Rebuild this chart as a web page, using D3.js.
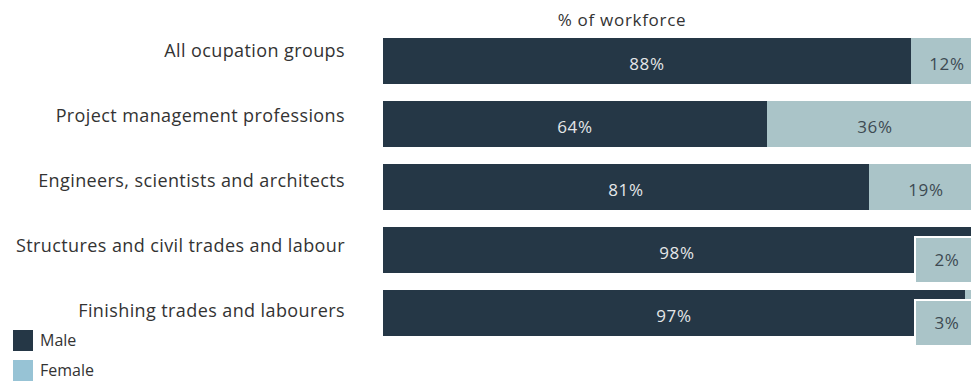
<!DOCTYPE html>
<html>
<head>
<meta charset="utf-8">
<script src="https://cdn.jsdelivr.net/npm/d3@7"></script>
<style>
  body { margin: 0; background: #fff; }
  svg { display: block; font-family: "Open Sans", sans-serif; }
</style>
</head>
<body>
<div id="chart"></div>
<script>
// data
const categories = [
    "All ocupation groups",
    "Project management professions",
    "Engineers, scientists and architects",
    "Structures and civil trades and labour",
    "Finishing trades and labourers"
];
const male = [88, 64, 81, 98, 97];
const female = [12, 36, 19, 2, 3];
const seriesNames = ["Male", "Female"];

const width = 971, height = 381;
const colMale = "#253746", colFemale = "#aac4c8", colFemaleKey = "#97c3d5";

const svg = d3.select("#chart").append("svg")
    .attr("width", width)
    .attr("height", height);

// scales
const x = d3.scaleLinear().domain([0, 100]).range([383, 983]);
const y = d3.scaleBand().domain(categories).range([38, 336]).paddingInner(0.27).paddingOuter(0);
const yLabel = d3.scalePoint().domain(categories).range([51, 311]);

const rows = categories.map((c, i) => ({cat: c, m: male[i], f: female[i]}));

// title
svg.append("text")
    .attr("x", 622).attr("y", 20)
    .attr("dy", "0.35em")
    .attr("text-anchor", "middle")
    .attr("font-size", 17).attr("letter-spacing", 0.7).attr("fill", "#333")
    .text("% of workforce");

// category labels
svg.selectAll(".cat-label").data(rows).enter().append("text")
    .attr("class", "cat-label")
    .attr("x", 345)
    .attr("y", d => yLabel(d.cat))
    .attr("dy", "0.35em")
    .attr("text-anchor", "end")
    .attr("font-size", 18).attr("letter-spacing", 0.4).attr("fill", "#333")
    .text(d => d.cat);

// bars
const g = svg.selectAll(".row").data(rows).enter().append("g").attr("class", "row");

g.append("rect")
    .attr("x", x(0))
    .attr("y", d => y(d.cat))
    .attr("width", d => x(d.m) - x(0))
    .attr("height", y.bandwidth())
    .attr("fill", colMale);

g.append("rect")
    .attr("x", d => x(d.m))
    .attr("y", d => y(d.cat))
    .attr("width", d => x(d.m + d.f) - x(d.m))
    .attr("height", y.bandwidth())
    .attr("fill", colFemale);

g.append("text")
    .attr("x", d => (x(0) + x(d.m)) / 2)
    .attr("y", d => y(d.cat) + y.bandwidth() / 2 + 3)
    .attr("dy", "0.35em")
    .attr("text-anchor", "middle")
    .attr("font-size", 17).attr("letter-spacing", 0.7).attr("fill", "#e4e6e8")
    .text(d => d.m + "%");

// female labels: inside segment, or in a callout box when the segment is too thin
const callW = 68;
g.filter(d => d.f < 5).append("rect")
    .attr("x", x(100) - callW)
    .attr("y", d => y(d.cat) + 10)
    .attr("width", callW)
    .attr("height", y.bandwidth())
    .attr("fill", colFemale)
    .attr("stroke", "#fff").attr("stroke-width", 2);

g.append("text")
    .attr("x", d => d.f < 5 ? x(100) - callW / 2 - 2 : (x(d.m) + x(100)) / 2)
    .attr("y", d => y(d.cat) + y.bandwidth() / 2 + (d.f < 5 ? 10 : 3))
    .attr("dy", "0.35em")
    .attr("text-anchor", "middle")
    .attr("font-size", 17).attr("letter-spacing", 0.7).attr("fill", "#3d4a52")
    .text(d => d.f + "%");

// legend
const legend = svg.selectAll(".legend").data(seriesNames).enter().append("g")
    .attr("class", "legend")
    .attr("transform", (d, i) => `translate(13, ${330 + i * 30})`);

legend.append("rect")
    .attr("width", 20).attr("height", 21)
    .attr("fill", (d, i) => i === 0 ? colMale : colFemaleKey);

legend.append("text")
    .attr("x", 27).attr("y", 10)
    .attr("dy", "0.35em")
    .attr("font-size", 16).attr("fill", "#333")
    .text(d => d);
</script>
</body>
</html>
